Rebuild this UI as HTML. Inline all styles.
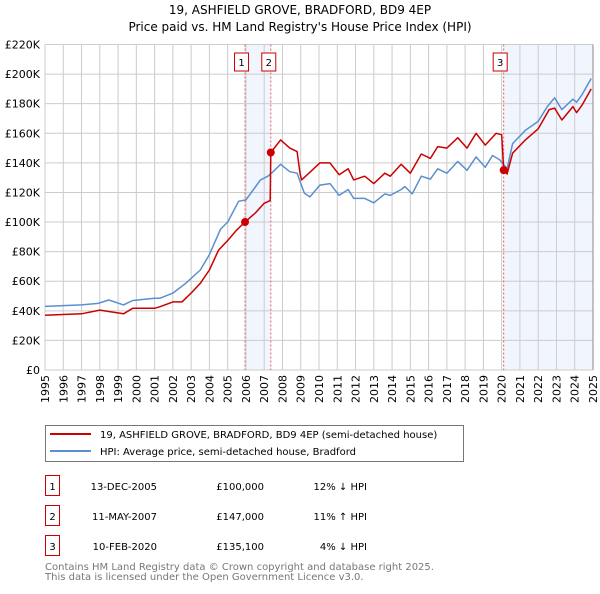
<!DOCTYPE html>
<html><head><meta charset="utf-8"><style>
body{margin:0;background:#fff;font-family:"DejaVu Sans","Liberation Sans",sans-serif;}
svg text{font-family:"DejaVu Sans","Liberation Sans",sans-serif;}
</style></head><body>
<svg id="c" width="600" height="590" xmlns="http://www.w3.org/2000/svg">
<text x="300" y="14" text-anchor="middle" font-size="12" fill="#000">19, ASHFIELD GROVE, BRADFORD, BD9 4EP</text>
<text x="300" y="31" text-anchor="middle" font-size="12" fill="#000">Price paid vs. HM Land Registry's House Price Index (HPI)</text>
<g id="plot"></g>
<g>
<rect x="45.5" y="425.5" width="418" height="36" fill="#fff" stroke="#777"/>
<line x1="50" y1="434" x2="91" y2="434" stroke="#cc0000" stroke-width="2"/>
<text x="100" y="438" font-size="10">19, ASHFIELD GROVE, BRADFORD, BD9 4EP (semi-detached house)</text>
<line x1="50" y1="451" x2="91" y2="451" stroke="#5b8fd0" stroke-width="2"/>
<text x="100" y="455" font-size="10">HPI: Average price, semi-detached house, Bradford</text>
</g>
<g font-size="10">
<rect x="45.5" y="475.5" width="14" height="20" fill="#fff" stroke="#cc0000"/><text x="52.5" y="490" text-anchor="middle">1</text>
<text x="157" y="490" text-anchor="end">13-DEC-2005</text><text x="264" y="490" text-anchor="end">£100,000</text><text x="367" y="490" text-anchor="end">12% ↓ HPI</text>
<rect x="45.5" y="505.5" width="14" height="20" fill="#fff" stroke="#cc0000"/><text x="52.5" y="520" text-anchor="middle">2</text>
<text x="157" y="520" text-anchor="end">11-MAY-2007</text><text x="264" y="520" text-anchor="end">£147,000</text><text x="367" y="520" text-anchor="end">11% ↑ HPI</text>
<rect x="45.5" y="535.5" width="14" height="20" fill="#fff" stroke="#cc0000"/><text x="52.5" y="550" text-anchor="middle">3</text>
<text x="157" y="550" text-anchor="end">10-FEB-2020</text><text x="264" y="550" text-anchor="end">£135,100</text><text x="367" y="550" text-anchor="end">4% ↓ HPI</text>
</g>
<text x="45" y="570" font-size="10" fill="#777">Contains HM Land Registry data © Crown copyright and database right 2025.</text>
<text x="45" y="580" font-size="10" fill="#777">This data is licensed under the Open Government Licence v3.0.</text>
</svg>
<script>
const yTicks=[0,20,40,60,80,100,120,140,160,180,200,220];
const yTickLabels=["£0","£20K","£40K","£60K","£80K","£100K","£120K","£140K","£160K","£180K","£200K","£220K"];
const years=[1995,1996,1997,1998,1999,2000,2001,2002,2003,2004,2005,2006,2007,2008,2009,2010,2011,2012,2013,2014,2015,2016,2017,2018,2019,2020,2021,2022,2023,2024,2025];
const hpiT=[1995,1997,1997.9,1998.5,1999.3,1999.8,2001,2001.3,2002,2002.7,2003.5,2004,2004.6,2005,2005.6,2006,2006.8,2007.2,2007.4,2007.9,2008.4,2008.8,2009.2,2009.5,2010.05,2010.6,2011.1,2011.6,2011.9,2012.5,2013.0,2013.6,2013.9,2014.5,2014.7,2015.1,2015.6,2016.1,2016.5,2017.0,2017.6,2018.1,2018.6,2019.1,2019.5,2019.9,2020.3,2020.6,2021.3,2022.0,2022.5,2022.9,2023.3,2023.9,2024.1,2024.4,2024.9];
const hpiV=[43,44,45,47.3,44,47,48.5,48.5,52,58.6,67.6,78,95,100,114,115,128.5,131,133,139,134,133,119.5,117,125,126,118,122,116,116,113,119,118,122,124,119,131,129,136,133,141,135,144,137,145,142,136,153,162,168,178,184,176,183,181,186,197];
const priceT=[1995,1997,1998,1999.3,1999.8,2001,2001.3,2002,2002.5,2003,2003.5,2004,2004.5,2005,2005.5,2005.95,2006.5,2007,2007.33,2007.36,2007.9,2008.4,2008.8,2008.96,2009.05,2010.05,2010.6,2011.1,2011.6,2011.9,2012.5,2013.0,2013.6,2013.9,2014.5,2015.0,2015.6,2016.1,2016.5,2017.0,2017.6,2018.1,2018.6,2019.1,2019.7,2020.0,2020.11,2020.3,2020.6,2021.3,2022.0,2022.6,2022.9,2023.3,2023.9,2024.1,2024.4,2024.9];
const priceV=[37,38,40.5,38,41.7,41.7,42.8,46,46,52,58.6,67.6,81,87.5,94.7,100,106,112.7,114.5,147,155.5,150,147.6,133,128.5,140,140,132,136,128.5,131,126,133,131,139,133,146,143,151,150,157,150,160,152,160,159,135.1,132.5,146.5,155.5,163,176,177,169,178,174,179,190];
const saleT=[2005.95,2007.36,2020.11];
const saleV=[100,147,135.1];
const saleLabels=["1","2","3"];
const X0=45,X1=593,Y0=370,Y1=44.5;
const xs=t=>X0+(t-1995)*(X1-X0)/30;
const ys=v=>Y0-v*(Y0-Y1)/220;
const NS="http://www.w3.org/2000/svg";
const g=document.getElementById('plot');
function mk(tag,attrs,parent){const e=document.createElementNS(NS,tag);for(const k in attrs)e.setAttribute(k,attrs[k]);(parent||g).appendChild(e);return e;}
let r=mk('rect',{x:xs(saleT[0]),y:Y1,width:xs(saleT[1])-xs(saleT[0]),height:Y0-Y1,fill:'#eef3fc',opacity:0.8});


r=mk('rect',{x:xs(saleT[2]),y:Y1,width:X1-xs(saleT[2]),height:Y0-Y1,fill:'#eef3fc',opacity:0.8});


yTicks.forEach((v,i)=>{
 const l=mk('line',{x1:X0,x2:X1,y1:ys(v),y2:ys(v),stroke:'#cccccc','stroke-width':1});
 
 
 const t=mk('text',{x:X0-5,y:ys(v)+4,'text-anchor':'end','font-size':11});
 t.textContent=yTickLabels[i];
 
 
});
years.forEach(y=>{
 const l=mk('line',{x1:xs(y),x2:xs(y),y1:Y1,y2:Y0,stroke:'#cccccc','stroke-width':1});
 
 
 const t=mk('text',{x:0,y:0,'text-anchor':'end','font-size':11,transform:`translate(${xs(y)+4},${Y0+5}) rotate(-90)`});
 t.textContent=y;
 
 
});
const edge=mk('line',{x1:X1,x2:X1,y1:Y1,y2:Y0,stroke:'#888','stroke-width':1});


saleT.forEach((t,i)=>{
 const l=mk('line',{x1:xs(t),x2:xs(t),y1:Y1,y2:Y0,stroke:'#e06060','stroke-width':1,'stroke-dasharray':'2,2'});
 
 
});
function path(T,V,color,name){
 const d=T.map((t,i)=>(i?'L':'M')+xs(t).toFixed(1)+','+ys(V[i]).toFixed(1)).join('');
 const p=mk('path',{d:d,fill:'none',stroke:color,'stroke-width':1.5,'stroke-linejoin':'round'});
 
 
}
path(hpiT,hpiV,'#5b8fd0','hpi-line');
path(priceT,priceV,'#cc0000','price-paid-line');
saleT.forEach((t,i)=>{
 const c=mk('circle',{cx:xs(t),cy:ys(saleV[i]),r:4,fill:'#cc0000'});
 
 
 const bx=i==1?xs(t)-2:xs(t)-3.5;
 const b=mk('rect',{x:bx-7,y:53,width:14,height:18,fill:'#fff',stroke:'#cc0000'});
 
 
 const tx=mk('text',{x:bx,y:66,'text-anchor':'middle','font-size':10});
 tx.textContent=saleLabels[i];
 
 
});
</script>
</body></html>
